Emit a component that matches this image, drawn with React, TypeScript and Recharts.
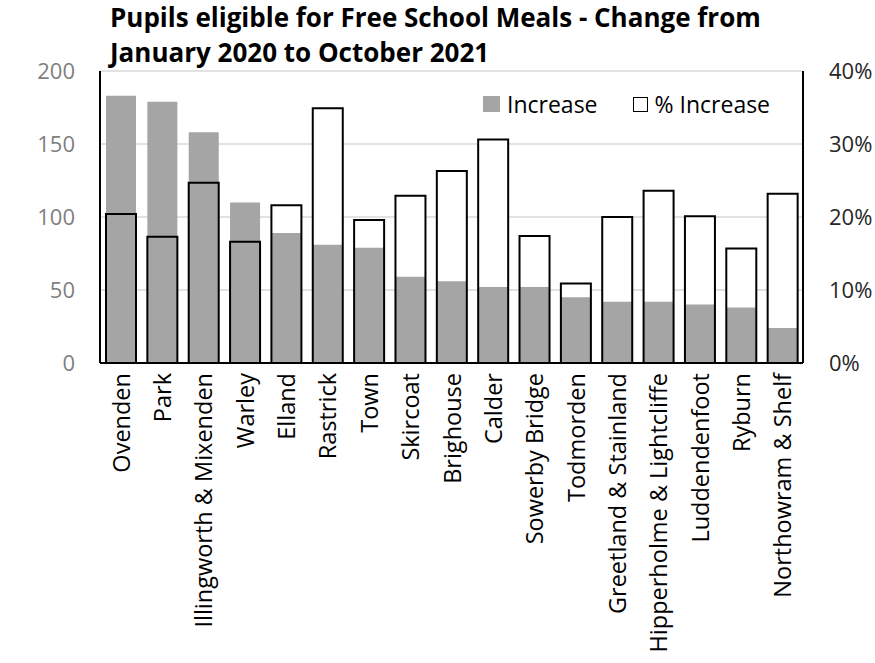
import { ComposedChart, Bar, XAxis, YAxis, CartesianGrid } from 'recharts';

const wards = [
  'Ovenden', 'Park', 'Illingworth & Mixenden', 'Warley', 'Elland', 'Rastrick', 'Town',
  'Skircoat', 'Brighouse', 'Calder', 'Sowerby Bridge', 'Todmorden', 'Greetland & Stainland',
  'Hipperholme & Lightcliffe', 'Luddendenfoot', 'Ryburn', 'Northowram & Shelf',
];
const increase = [183, 179, 158, 110, 89, 81, 79, 59, 56, 52, 52, 45, 42, 42, 40, 38, 24];
const pctIncrease = [0.204, 0.173, 0.247, 0.166, 0.216, 0.349, 0.196, 0.229, 0.263, 0.306, 0.174, 0.109, 0.2, 0.236, 0.201, 0.157, 0.232];
const leftTicks = [0, 50, 100, 150, 200];
const rightTicks = [0, 0.1, 0.2, 0.3, 0.4];

const data = wards.map((w, i) => ({ ward: w, inc: increase[i], pct: pctIncrease[i] }));

const FONT = '"Open Sans", sans-serif';

const WardTick = (props: any) => {
  const { x, y, payload } = props;
  return (
    <text
      x={x}
      y={y}
      transform={`rotate(-90, ${x}, ${y})`}
      textAnchor="end"
      dominantBaseline="central"
      fontSize={23.5}
      fontFamily={FONT}
      fill="#000"
    >
      {payload.value}
    </text>
  );
};

export default function App() {
  return (
    <div style={{ position: 'absolute', left: 0, top: 0, width: 875, height: 663, background: '#fff', overflow: 'hidden' }}>
      <div
        style={{
          position: 'absolute', left: 110, top: 0, fontFamily: FONT, fontWeight: 700,
          fontSize: 26, lineHeight: '35px', color: '#000', whiteSpace: 'nowrap',
        }}
      >
        Pupils eligible for Free School Meals - Change from
        <br />
        January 2020 to October 2021
      </div>
      <ComposedChart
        width={875}
        height={663}
        data={data}
        barGap={-30}
        margin={{ top: 71, right: 0, bottom: 0, left: 0 }}
      >
        <CartesianGrid horizontal vertical={false} stroke="#d9d9d9" strokeWidth={1.5} yAxisId="left" />
        <XAxis
          dataKey="ward"
          interval={0}
          height={300}
          tick={<WardTick />}
          tickLine={false}
          axisLine={{ stroke: '#000', strokeWidth: 2 }}
          tickMargin={4}
        />
        <YAxis
          yAxisId="left"
          width={100}
          domain={[0, 200]}
          ticks={leftTicks}
          tickLine={false}
          axisLine={{ stroke: '#000', strokeWidth: 2 }}
          tick={{ fontSize: 22, fontFamily: FONT, fill: '#7f7f7f' }}
          tickMargin={19}
        />
        <YAxis
          yAxisId="right"
          orientation="right"
          width={72}
          domain={[0, 0.4]}
          ticks={rightTicks}
          tickFormatter={(v: number) => `${Math.round(v * 100)}%`}
          tickLine={false}
          axisLine={{ stroke: '#000', strokeWidth: 2 }}
          tick={{ fontSize: 22, fontFamily: FONT, fill: '#262626' }}
          tickMargin={20}
        />
        <Bar yAxisId="right" dataKey="pct" barSize={30} fill="#fff" isAnimationActive={false} />
        <Bar yAxisId="left" dataKey="inc" barSize={30} fill="#a5a5a5" isAnimationActive={false} />
        <Bar yAxisId="right" dataKey="pct" barSize={30} fill="none" stroke="#000" strokeWidth={2} isAnimationActive={false} />
      </ComposedChart>
      <div
        style={{
          position: 'absolute', left: 483, top: 88, display: 'flex', alignItems: 'center',
          fontFamily: FONT, fontSize: 23, color: '#000', whiteSpace: 'nowrap',
        }}
      >
        <span style={{ width: 17, height: 16, background: '#a5a5a5', display: 'inline-block', marginRight: 7 }} />
        <span style={{ marginRight: 35 }}>Increase</span>
        <span style={{ width: 13, height: 13, border: '1.5px solid #000', background: '#fff', display: 'inline-block', marginRight: 7 }} />
        <span>% Increase</span>
      </div>
    </div>
  );
}
